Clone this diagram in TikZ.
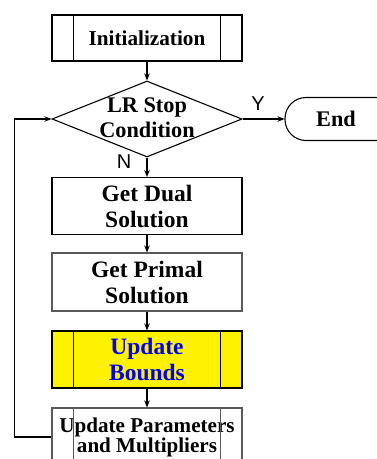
\documentclass[tikz,border=0pt]{standalone}
\usepackage{fontspec}
\setmainfont{Liberation Serif}
\newfontfamily\lsans{Liberation Sans}
\usetikzlibrary{shapes.geometric,arrows.meta,calc}
\begin{document}
\begin{tikzpicture}[x=1pt,y=-1pt,
  box/.style={draw,line width=1.1pt,minimum width=190pt,inner sep=0pt,
    font=\fontsize{23.5}{26}\selectfont\bfseries,align=center},
  graybox/.style={box,draw=black!65},
  txt/.style={inner sep=0pt,font=\fontsize{22.3}{25}\selectfont\bfseries,align=center},
  flow/.style={line width=1.1pt,-{Stealth[length=7pt,width=5.5pt]}},
  lbl/.style={inner sep=0pt,font=\lsans\fontsize{20}{22}\selectfont}]
\useasboundingbox (0,0) rectangle (377,459);
\clip (0,0) rectangle (377,459);

% Initialization
\node[box,minimum height=46pt,font=\fontsize{21.2}{26}\selectfont\bfseries] (init) at (147,38) {Initialization};
\draw[line width=1.1pt] ($(init.north west)+(22,0)$) -- ($(init.south west)+(22,0)$);
\draw[line width=1.1pt] ($(init.north east)+(-22,0)$) -- ($(init.south east)+(-22,0)$);

% Decision
\node[draw,diamond,line width=1.1pt,minimum width=190pt,minimum height=76pt,inner sep=0pt] (cond) at (147,119) {};
\node[txt] (condt) at (147,118) {LR Stop\\Condition};

% End terminal
\node[draw,line width=1.1pt,rounded corners=21pt,minimum width=112pt,minimum height=43pt,inner sep=0pt] (end) at (341,119) {};
\node[txt] (endt) at (336,119) {End};

% Process boxes
\node[box,minimum height=57pt] (dual) at (147,206) {Get Dual\\Solution};
\node[graybox,minimum height=58pt] (primal) at (147,282) {Get Primal\\Solution};
\node[box,minimum height=57pt,fill=yellow,text=blue] (bounds) at (147,359.5) {Update\\Bounds};
\draw[line width=1.1pt] ($(bounds.north west)+(22,0)$) -- ($(bounds.south west)+(22,0)$);
\draw[line width=1.1pt] ($(bounds.north east)+(-22,0)$) -- ($(bounds.south east)+(-22,0)$);
\node[graybox,minimum height=58pt,font=\fontsize{21.1}{20}\selectfont\bfseries] (params) at (147,437) {Update Parameters\\and Multipliers};
\draw[line width=1.1pt,black!65] ($(params.north west)+(22,0)$) -- ($(params.south west)+(22,0)$);
\draw[line width=1.1pt,black!65] ($(params.north east)+(-22,0)$) -- ($(params.south east)+(-22,0)$);

% Connectors
\draw[flow] (init) -- (cond);
\draw[flow] (cond.east) -- (end.west);
\draw[flow] (cond.south) -- (dual.north);
\draw[flow] (dual) -- (primal);
\draw[flow] (primal) -- (bounds);
\draw[flow] (bounds) -- (params);
\draw[flow] (params.west) -| ($(cond.west)+(-37,0)$) -- (cond.west);

% Labels
\node[lbl] (ylab) at (258,104) {Y};
\node[lbl] (nlab) at (124,162) {N};
\end{tikzpicture}
\end{document}
